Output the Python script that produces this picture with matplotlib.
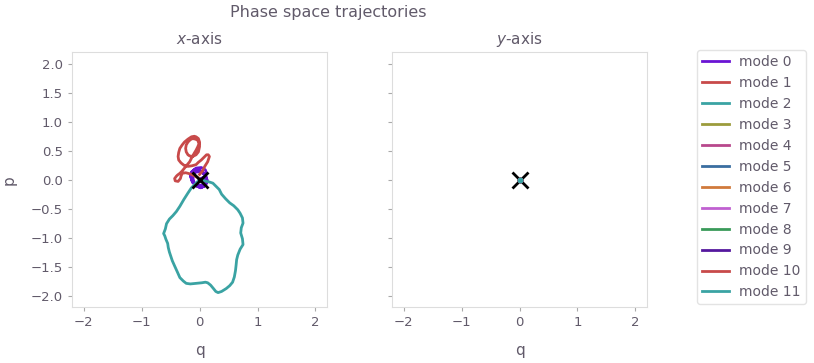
import numpy as np
import matplotlib.pyplot as plt

# mode 1 (red) phase-space trajectory
q_mode1 = [0.00, 0.05, 0.09, 0.14, 0.17, 0.15, 0.12, 0.07, 0.03, -0.02, -0.06, -0.13, -0.20,
           -0.27, -0.32, -0.36, -0.37, -0.36, -0.34, -0.30, -0.26, -0.20, -0.14, -0.09, -0.06,
           -0.02, 0.00, 0.00, -0.02, -0.06, -0.12, -0.17, -0.20, -0.23, -0.24, -0.23, -0.20,
           -0.16, -0.12, -0.07, -0.03, -0.01, -0.03, -0.06, -0.09, -0.13, -0.17, -0.22, -0.26,
           -0.30, -0.34, -0.38, -0.40, -0.43, -0.42, -0.37, -0.33, -0.32, -0.30, -0.24, -0.16,
           -0.08, -0.02, 0.00]
p_mode1 = [0.09, 0.15, 0.23, 0.31, 0.40, 0.43, 0.43, 0.38, 0.34, 0.30, 0.26, 0.24, 0.23,
           0.25, 0.29, 0.34, 0.40, 0.47, 0.54, 0.60, 0.65, 0.70, 0.74, 0.75, 0.74,
           0.71, 0.65, 0.57, 0.48, 0.43, 0.40, 0.41, 0.43, 0.48, 0.54, 0.60, 0.65,
           0.69, 0.71, 0.70, 0.68, 0.62, 0.57, 0.51, 0.46, 0.39, 0.31, 0.25, 0.20,
           0.15, 0.11, 0.08, 0.06, 0.02, -0.02, -0.03, 0.02, 0.06, 0.11, 0.12, 0.10,
           0.06, 0.03, 0.00]

# mode 2 (teal) trajectory
q_mode2 = [0.00, -0.07, -0.14, -0.20, -0.27, -0.34, -0.40, -0.46, -0.52, -0.57, -0.59, -0.62,
           -0.60, -0.58, -0.55, -0.54, -0.52, -0.50, -0.47, -0.43, -0.38, -0.34, -0.28, -0.23,
           -0.16, -0.06, 0.04, 0.10, 0.14, 0.19, 0.24, 0.28, 0.32, 0.38, 0.46, 0.52, 0.57,
           0.60, 0.62, 0.63, 0.64, 0.66, 0.70, 0.75, 0.74, 0.71, 0.72, 0.75, 0.74, 0.70,
           0.66, 0.59, 0.52, 0.45, 0.38, 0.34, 0.28, 0.23, 0.17, 0.12, 0.06, 0.00]
p_mode2 = [0.00, -0.07, -0.14, -0.23, -0.34, -0.46, -0.55, -0.62, -0.68, -0.76, -0.85, -0.93,
           -0.97, -1.03, -1.10, -1.17, -1.25, -1.31, -1.40, -1.49, -1.60, -1.69, -1.75, -1.79,
           -1.80, -1.79, -1.78, -1.77, -1.78, -1.82, -1.88, -1.93, -1.95, -1.93, -1.88, -1.83,
           -1.77, -1.68, -1.57, -1.48, -1.38, -1.30, -1.20, -1.12, -1.02, -0.92, -0.83, -0.75,
           -0.66, -0.58, -0.52, -0.45, -0.40, -0.33, -0.25, -0.17, -0.11, -0.06, -0.04, -0.03,
           -0.01, 0.00]

# mode 0 (purple) small scribble round the origin
q_mode0 = [0.00, 0.08, 0.12, 0.10, 0.03, -0.06, -0.13, -0.15, -0.12, -0.05, 0.04, 0.11, 0.13,
           0.09, 0.01, -0.08, -0.14, -0.14, -0.09, -0.01, 0.07, 0.12, 0.11, 0.05, -0.04, -0.11,
           -0.16, -0.13, -0.06, 0.02, 0.09, 0.13, 0.10, 0.02, -0.07, -0.12, -0.10, -0.03, 0.05,
           0.10, 0.06, 0.00]
p_mode0 = [0.00, 0.04, 0.11, 0.17, 0.21, 0.20, 0.14, 0.05, -0.05, -0.11, -0.13, -0.09, 0.00,
           0.09, 0.16, 0.18, 0.13, 0.03, -0.07, -0.13, -0.12, -0.05, 0.05, 0.13, 0.17, 0.15,
           0.08, -0.02, -0.10, -0.14, -0.10, -0.02, 0.08, 0.14, 0.13, 0.06, -0.04, -0.10, -0.09,
           -0.02, 0.04, 0.00]

# modes 3..11 sit at the origin
q_rest = [0.0, 0.0]
p_rest = [0.0, 0.0]

mode_labels = ["mode %d" % i for i in range(12)]
mode_colors = ["#6a14d4", "#c84a4a", "#3aa3a3", "#9c9c3c", "#b8488c", "#3a6ea0",
               "#d07a3c", "#c060d0", "#3a9a5a", "#55189e", "#c84a4a", "#3aa3a3"]

text_col = "#615a6a"
spine_col = "#dddddd"

plt.rcParams["font.family"] = "DejaVu Sans"
plt.rcParams["text.color"] = text_col
plt.rcParams["axes.labelcolor"] = text_col
plt.rcParams["xtick.color"] = "#aaaaaa"
plt.rcParams["ytick.color"] = "#aaaaaa"
plt.rcParams["xtick.labelcolor"] = text_col
plt.rcParams["ytick.labelcolor"] = text_col

fig = plt.figure(figsize=(8.14, 3.63), dpi=100)
ax1 = fig.add_axes([0.0885, 0.154, 0.3133, 0.702])
ax2 = fig.add_axes([0.4816, 0.154, 0.3133, 0.702], sharey=ax1)

x_traj = [(q_mode0, p_mode0), (q_mode1, p_mode1), (q_mode2, p_mode2)] + [(q_rest, p_rest)] * 9
y_traj = [(q_rest, p_rest)] * 12

for ax in (ax1, ax2):
    ax.plot([0], [0], marker="x", color="black", ms=12, mew=2, ls="none", zorder=2)

lines = []
for i in range(12):
    l, = ax1.plot(x_traj[i][0], x_traj[i][1], color=mode_colors[i], lw=2,
                  label=mode_labels[i], zorder=1)
    ax2.plot(y_traj[i][0], y_traj[i][1], color=mode_colors[i], lw=2, marker="o", ms=4,
             mew=0, zorder=3)
    lines.append(l)

for ax, t in [(ax1, "$x$-axis"), (ax2, "$y$-axis")]:
    ax.set_xlim(-2.2, 2.2)
    ax.set_ylim(-2.2, 2.2)
    ax.set_xticks([-2, -1, 0, 1, 2])
    ax.set_yticks([-2.0, -1.5, -1.0, -0.5, 0.0, 0.5, 1.0, 1.5, 2.0])
    ax.set_title(t, fontsize=11, color=text_col)
    ax.set_xlabel("q", fontsize=11, labelpad=10)
    ax.tick_params(labelsize=9.5, length=3)
    for s in ax.spines.values():
        s.set_color(spine_col)

ax1.set_ylabel("p", fontsize=11, labelpad=10)
ax1.set_yticklabels(["−2.0", "−1.5", "−1.0", "−0.5", "0.0", "0.5", "1.0", "1.5", "2.0"])
plt.setp(ax2.get_yticklabels(), visible=False)

fig.legend(handles=lines, loc="upper left", bbox_to_anchor=(0.856, 0.862),
           fontsize=10, frameon=True, edgecolor=spine_col, handlelength=2.0,
           handletextpad=0.7, borderpad=0.35, borderaxespad=0.0)
fig.suptitle("Phase space trajectories", x=0.403, y=0.985, fontsize=11.5, color=text_col)

fig.savefig("out.png", dpi=100)
